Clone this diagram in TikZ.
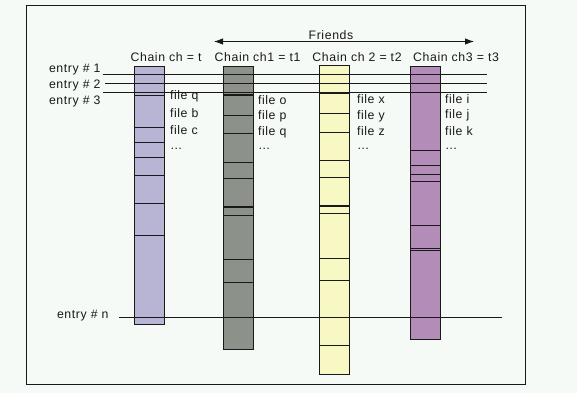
\documentclass[tikz,border=0pt]{standalone}
\usepackage{fontspec}
\setmainfont[LetterSpace=5]{Liberation Sans}
\usetikzlibrary{arrows.meta}
\definecolor{bg}{RGB}{246,250,247}
\definecolor{lav}{RGB}{184,180,212}
\definecolor{grayc}{RGB}{140,145,138}
\definecolor{yel}{RGB}{248,248,196}
\definecolor{purp}{RGB}{180,140,184}
\definecolor{ink}{RGB}{25,25,25}
\begin{document}
\begin{tikzpicture}[x=1pt,y=-1pt,
  lbl/.style={inner sep=0pt, outer sep=0pt, font=\fontsize{12.3}{14}\selectfont, anchor=west, text=ink},
  title/.style={inner sep=0pt, outer sep=0pt, font=\fontsize{12.3}{14}\selectfont, text=ink},
  column/.style={draw=ink, line width=0.9pt, anchor=north west, minimum width=30pt, inner sep=0pt, outer sep=0pt},
  stripe/.style={draw=ink, line width=0.8pt},
  thickstripe/.style={draw=ink, line width=2pt},
  entryline/.style={draw=ink, line width=0.8pt}]
\fill[bg] (0,0) rectangle (577,393);
\useasboundingbox (0,0) rectangle (577,393);
% frame
\draw[draw=ink, line width=1pt] (26.5,6) rectangle (525,384);
% friends arrow
\node[title] (friends) at (331,35) {Friends};
\coordinate (fl) at (214,41.5);
\coordinate (fr) at (474,41.5);
\draw[draw=ink, line width=0.9pt, {Latex[length=9pt,width=6.5pt]}-{Latex[length=9pt,width=6.5pt]}] (fl) -- (fr);
% titles
\node[title] (t0) at (166,57.5) {Chain ch = t};
\node[title] (t1) at (257.5,57.5) {Chain ch1 = t1};
\node[title] (t2) at (357,57) {Chain ch 2 = t2};
\node[title] (t3) at (456,57.5) {Chain ch3 = t3};
% columns
\node[column, fill=lav, minimum height=258pt] (c0) at (134,66) {};
\node[column, fill=grayc, minimum height=282.5pt] (c1) at (223.7,66.5) {};
\node[column, fill=yel, minimum height=309.5pt] (c2) at (319.5,65) {};
\node[column, fill=purp, minimum height=273.5pt] (c3) at (410.5,66) {};
% stripes
\foreach \y in {95,127,142,157,175,203,235}
  \draw[stripe] (c0.west |- 0,\y) -- (c0.east |- 0,\y);
\foreach \y in {115,133,162,178,215,259,282}
  \draw[stripe] (c1.west |- 0,\y) -- (c1.east |- 0,\y);
\foreach \y in {95,207}
  \draw[thickstripe] (c1.west |- 0,\y) -- (c1.east |- 0,\y);
\foreach \y in {113,132,160,177,213,258,280,345}
  \draw[stripe] (c2.west |- 0,\y) -- (c2.east |- 0,\y);
\foreach \y in {93.5,206}
  \draw[thickstripe] (c2.west |- 0,\y) -- (c2.east |- 0,\y);
\foreach \y in {150,165,174,181,225,248,250.5}
  \draw[stripe] (c3.west |- 0,\y) -- (c3.east |- 0,\y);
% entry labels and lines
\node[lbl] (e1) at (49,69.5) {entry \# 1};
\node[lbl] (e2) at (49,85.5) {entry \# 2};
\node[lbl] (e3) at (49,101) {entry \# 3};
\node[lbl] (en) at (57,316) {entry \# n};
\coordinate (e1s) at (103,74);  \coordinate (e1e) at (487,74);
\coordinate (e2s) at (105,83);  \coordinate (e2e) at (487,83);
\coordinate (e3s) at (103,92);  \coordinate (e3e) at (487,92);
\coordinate (ens) at (119,317); \coordinate (ene) at (502,317);
\draw[entryline] (e1s) -- (e1e);
\draw[entryline] (e2s) -- (e2e);
\draw[entryline] (e3s) -- (e3e);
\draw[entryline] (ens) -- (ene);
% file labels
\node[lbl] (f0a) at (170,96.7) {file q};
\node[lbl] (f0b) at (170,113.3) {file b};
\node[lbl] (f0c) at (170,130) {file c};
\node[lbl] (f0d) at (170,148.5) {\ldots};
\node[lbl] (f1a) at (258,100) {file o};
\node[lbl] (f1b) at (258,116) {file p};
\node[lbl] (f1c) at (258,132.3) {file q};
\node[lbl] (f1d) at (258,149) {\ldots};
\node[lbl] (f2a) at (357,99.3) {file x};
\node[lbl] (f2b) at (357,116.3) {file y};
\node[lbl] (f2c) at (357,131.3) {file z};
\node[lbl] (f2d) at (357,149) {\ldots};
\node[lbl] (f3a) at (445,99.3) {file i};
\node[lbl] (f3b) at (445,115) {file j};
\node[lbl] (f3c) at (445,131.3) {file k};
\node[lbl] (f3d) at (445,149) {\ldots};
\end{tikzpicture}
\end{document}
